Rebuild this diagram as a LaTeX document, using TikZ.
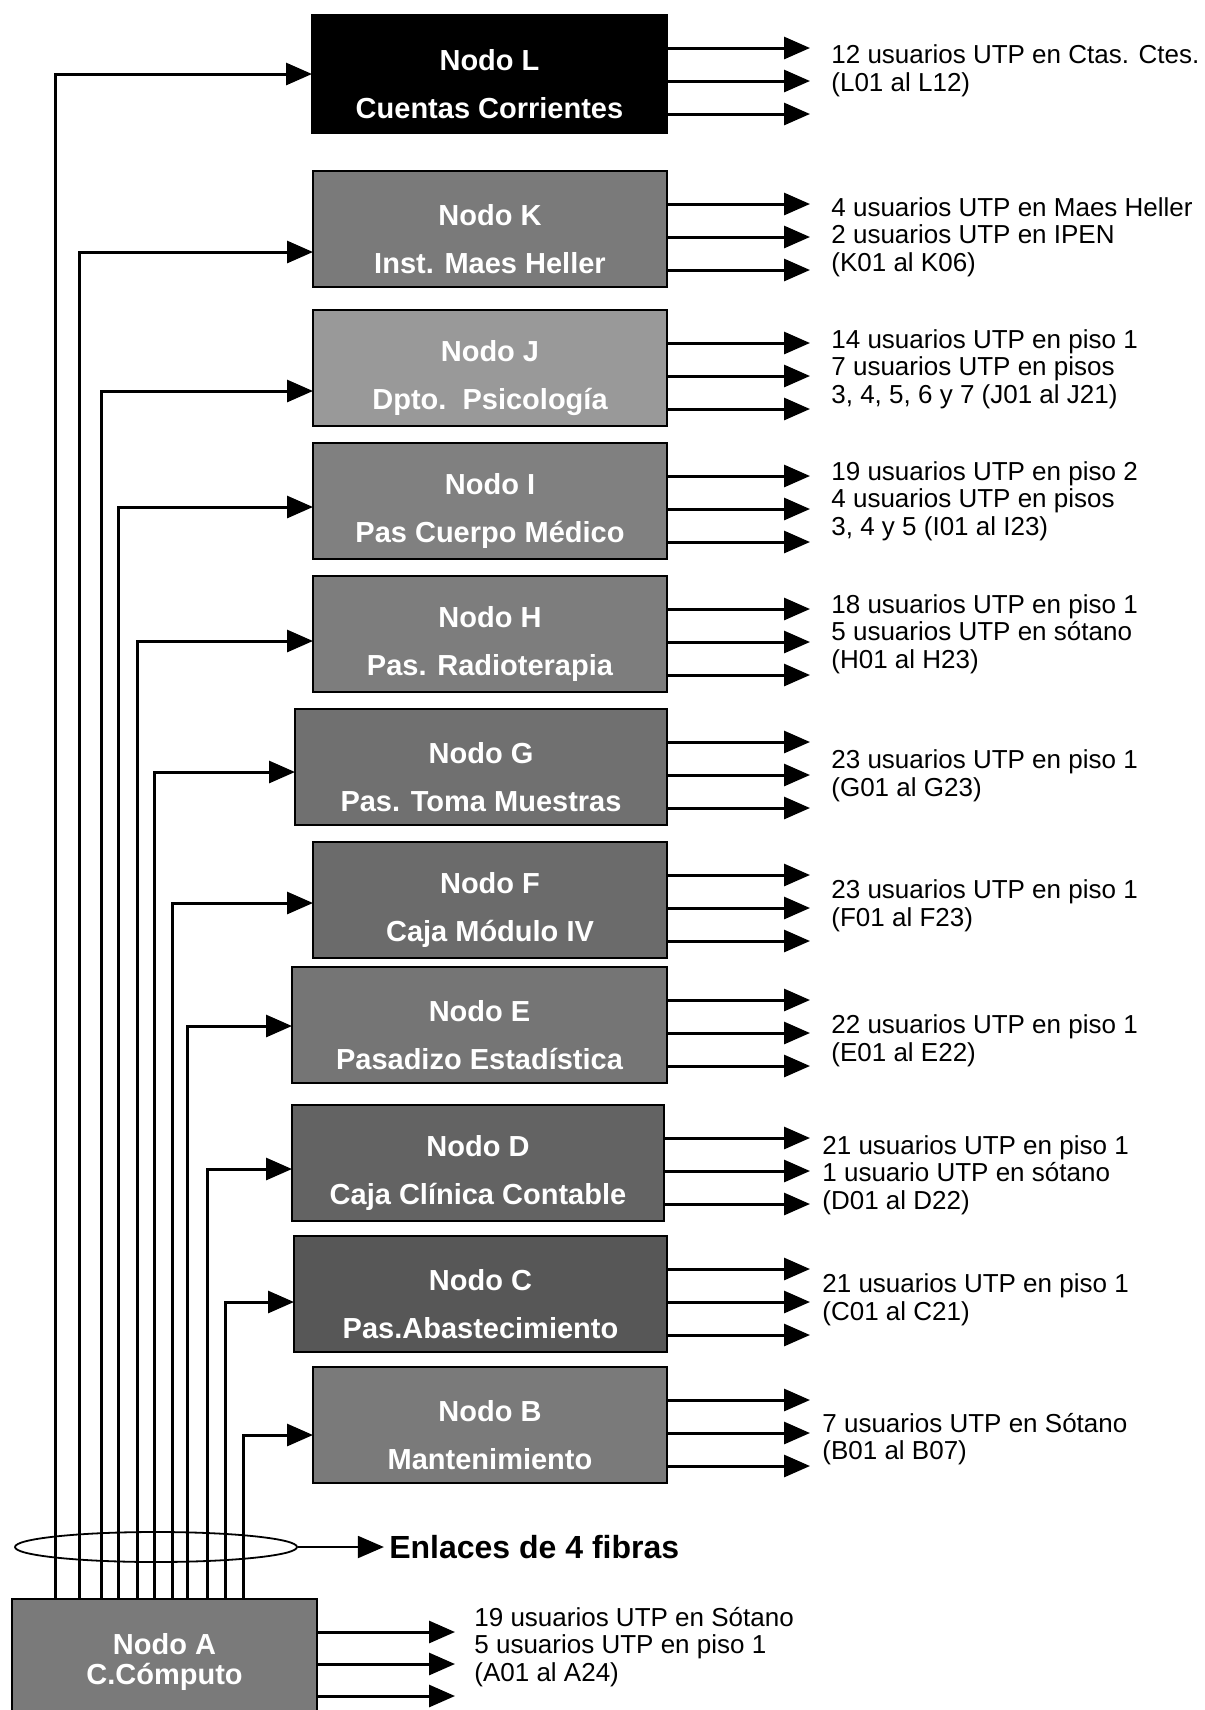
\documentclass[tikz,border=0pt]{standalone}
\usepackage{fontspec}
\setmainfont{Liberation Sans}
\usepackage{tikz}
\usetikzlibrary{positioning,arrows.meta,shapes.geometric}
\tikzset{
  box/.style={draw=black, line width=1pt, fill=black!52, minimum width=177pt, minimum height=58pt, inner sep=0pt, outer sep=0pt},
  dark/.style={box, fill=black},
  boxtxt/.style={text=white, align=center, font=\fontsize{14.5}{24}\selectfont\bfseries, yshift=-5pt},
  info/.style={anchor=west, align=left, inner sep=0pt, font=\fontsize{13}{13.8}\selectfont},
  edge/.style={-{Triangle[length=13pt, width=11pt]}, line width=1.5pt},
  feed/.style={edge},
}
\begin{document}
\begin{tikzpicture}[x=1pt, y=1pt]
  \useasboundingbox (0,0) rectangle (602.5,-855);
  \coordinate (tip) at (405,0);
  \coordinate (tipA) at (227.5,0);
  \coordinate (txt) at (415.5,0);
  \coordinate (txtA) at (237,0);
  \node[dark, minimum width=177.5pt, minimum height=59pt, anchor=north east, label={[boxtxt]center:{Nodo L\\Cuentas Corrientes}}] (L) at (333.5,-7.5) {};
  \node[box, below=19pt of L.south east, anchor=north east, label={[boxtxt]center:{Nodo K\\Inst. Maes Heller}}] (K) {};
  \node[box, fill=black!40, below=11.5pt of K.south east, anchor=north east, label={[boxtxt]center:{Nodo J\\Dpto.\ \ Psicología}}] (J) {};
  \node[box, fill=black!50, below=8.5pt of J.south east, anchor=north east, label={[boxtxt]center:{Nodo I\\Pas Cuerpo Médico}}] (I) {};
  \node[box, fill=black!51, below=8.5pt of I.south east, anchor=north east, label={[boxtxt]center:{Nodo H\\Pas. Radioterapia}}] (H) {};
  \node[box, fill=black!56, minimum width=186pt, below=8.5pt of H.south east, anchor=north east, label={[boxtxt]center:{Nodo G\\Pas. Toma Muestras}}] (G) {};
  \node[box, fill=black!58, below=8.5pt of G.south east, anchor=north east, label={[boxtxt]center:{Nodo F\\Caja Módulo IV}}] (F) {};
  \node[box, fill=black!54, minimum width=187.5pt, below=4.5pt of F.south east, anchor=north east, label={[boxtxt]center:{Nodo E\\Pasadizo Estadística}}] (E) {};
  \node[box, fill=black!61, minimum width=186pt, below=11pt of E.south east, xshift=-1.5pt, anchor=north east, label={[boxtxt]center:{Nodo D\\Caja Clínica Contable}}] (D) {};
  \node[box, fill=black!66, minimum width=186.5pt, below=7.5pt of D.south east, xshift=1.5pt, anchor=north east, label={[boxtxt]center:{Nodo C\\Pas.Abastecimiento}}] (C) {};
  \node[box, below=7.5pt of C.south east, anchor=north east, label={[boxtxt]center:{Nodo B\\Mantenimiento}}] (B) {};
  \node[box, minimum width=152.5pt, minimum height=72.5pt, anchor=north west, label={[boxtxt, font=\fontsize{14.5}{15}\selectfont\bfseries, yshift=10pt]center:{Nodo A\\C.Cómputo}}] (A) at (6,-799.5) {};
  \node[info, yshift=1.75pt] (Lt) at (L.east -| txt) {12 usuarios UTP en Ctas. Ctes.\\(L01 al L12)};
  \node[info, yshift=-4pt] (Kt) at (K.east -| txt) {4 usuarios UTP en Maes Heller\\2 usuarios UTP en IPEN\\(K01 al K06)};
  \node[info, yshift=-0.5pt] (Jt) at (J.east -| txt) {14 usuarios UTP en piso 1\\7 usuarios UTP en pisos\\3, 4, 5, 6 y 7 (J01 al J21)};
  \node[info] (It) at (I.east -| txt) {19 usuarios UTP en piso 2\\4 usuarios UTP en pisos\\3, 4 y 5 (I01 al I23)};
  \node[info] (Ht) at (H.east -| txt) {18 usuarios UTP en piso 1\\5 usuarios UTP en sótano\\(H01 al H23)};
  \node[info, yshift=-4.5pt] (Gt) at (G.east -| txt) {23 usuarios UTP en piso 1\\(G01 al G23)};
  \node[info, yshift=-3pt] (Ft) at (F.east -| txt) {23 usuarios UTP en piso 1\\(F01 al F23)};
  \node[info, yshift=-8pt] (Et) at (E.east -| txt) {22 usuarios UTP en piso 1\\(E01 al E22)};
  \node[info, yshift=-6pt, xshift=-4.5pt] (Dt) at (D.east -| txt) {21 usuarios UTP en piso 1\\1 usuario UTP en sótano\\(D01 al D22)};
  \node[info, yshift=-3pt, xshift=-4.5pt] (Ct) at (C.east -| txt) {21 usuarios UTP en piso 1\\(C01 al C21)};
  \node[info, yshift=-7pt, xshift=-4.5pt] (Bt) at (B.east -| txt) {7 usuarios UTP en Sótano\\(B01 al B07)};
  \node[info, yshift=12.25pt] (At) at (A.east -| txtA) {19 usuarios UTP en Sótano\\5 usuarios UTP en piso 1\\(A01 al A24)};
  \foreach \n in {L,K,J,I,H,G,F,E,D,C,B}
    \foreach \dy in {16.5,33,49.5} {
      \coordinate (o) at ([yshift=-\dy pt]\n.north east);
      \draw[edge] (o) -- (o -| tip);
    }
  \foreach \dy in {16.5,32.5,48.5} {
    \coordinate (o) at ([yshift=-\dy pt]A.north east);
    \draw[edge] (o) -- (o -| tipA);
  }
  \foreach \n/\dx/\dy in {L/21.5/0, K/33.5/-11.5, J/44.5/-11.5, I/53/-3, H/62.5/-3.5, G/71/-2.5, F/80/-1.5, E/87.5/-0.5, D/97.5/-3, C/106.5/-4, B/115.5/-5}
    \draw[feed] ([xshift=\dx pt]A.north west) |- ([yshift=\dy pt]\n.west);
  \node[draw, ellipse, line width=0.9pt, minimum width=141pt, minimum height=15pt, inner sep=0pt] (haz) at (78,-773.5) {};
  \node[right=43pt of haz, inner sep=2.5pt, font=\fontsize{16}{19}\selectfont\bfseries] (enl) {Enlaces de 4 fibras};
  \draw[edge, line width=1pt] (haz) -- (enl);
\end{tikzpicture}
\end{document}
